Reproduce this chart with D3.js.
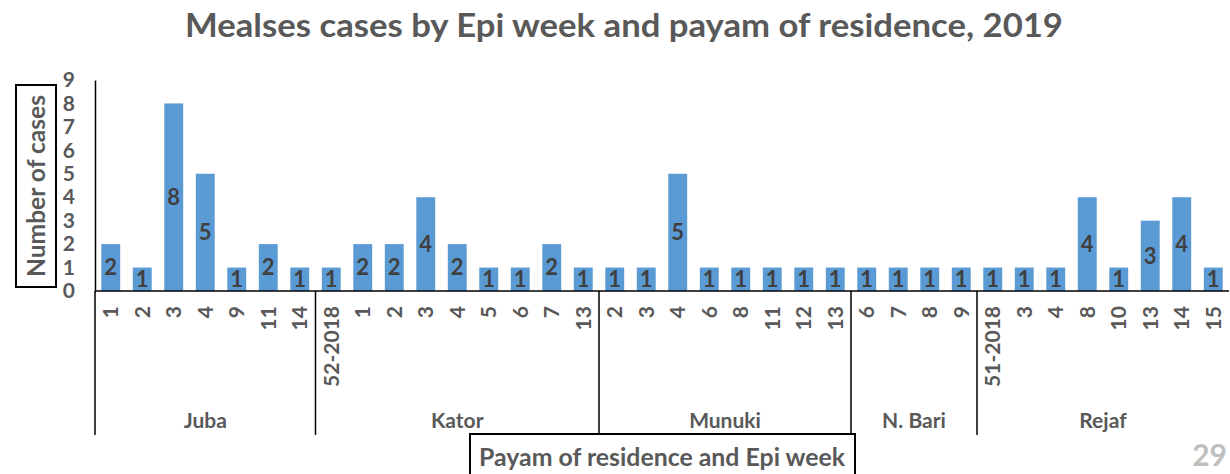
<!DOCTYPE html>
<html><head><meta charset="utf-8">
<script src="https://cdn.jsdelivr.net/npm/d3@7"></script>
<style>body{margin:0;background:#fff}svg{display:block}text{font-family:Lato,"Open Sans",sans-serif;font-weight:bold}</style>
</head><body><div id="c"></div>
<script>
const groups = ["Juba","Kator","Munuki","N. Bari","Rejaf"];
const weeks = [
  ["1","2","3","4","9","11","14"],
  ["52-2018","1","2","3","4","5","6","7","13"],
  ["2","3","4","6","8","11","12","13"],
  ["6","7","8","9"],
  ["51-2018","3","4","8","10","13","14","15"]
];
const cases = [
  [2,1,8,5,1,2,1],
  [1,2,2,4,2,1,1,2,1],
  [1,1,5,1,1,1,1,1],
  [1,1,1,1],
  [1,1,1,4,1,3,4,1]
];
const yTicks = [0,1,2,3,4,5,6,7,8,9];

const W=1230,H=474;
const svg=d3.select("#c").append("svg").attr("width",W).attr("height",H);
const rows=[];
groups.forEach((g,gi)=>weeks[gi].forEach((w,wi)=>rows.push({key:g+"|"+w+"|"+wi,g,w,v:cases[gi][wi]})));
const x=d3.scaleBand().domain(rows.map(d=>d.key)).range([95,1229]).paddingInner(0.4).paddingOuter(0.2);
const y=d3.scaleLinear().domain([0,9]).range([291,80]);
const grey="#595959";

svg.append("text").attr("x",624).attr("y",37).attr("text-anchor","middle").attr("font-size",33).attr("fill",grey)
  .attr("textLength",878).attr("lengthAdjust","spacingAndGlyphs")
  .text("Mealses cases by Epi week and payam of residence, 2019");

// bars
svg.selectAll("rect.bar").data(rows).join("rect").attr("class","bar")
  .attr("x",d=>x(d.key)).attr("width",x.bandwidth())
  .attr("y",d=>y(d.v)).attr("height",d=>y(0)-y(d.v)).attr("fill","#5b9bd5");
svg.selectAll("text.val").data(rows).join("text").attr("class","val")
  .attr("x",d=>x(d.key)+x.bandwidth()/2).attr("y",d=>(y(d.v)+y(0))/2)
  .attr("dy","0.36em").attr("text-anchor","middle").attr("font-size",22).attr("fill","#404040").text(d=>d.v);

// y axis
const ya=svg.append("g").attr("transform","translate(95,0)").call(d3.axisLeft(y).tickValues(yTicks).tickSize(0).tickPadding(20));
ya.select(".domain").attr("stroke","#000").attr("stroke-width",1.5);
ya.selectAll("text").attr("font-size",21).attr("fill",grey).attr("font-family","Lato,sans-serif").attr("font-weight","bold");

// x baseline
svg.append("line").attr("x1",95).attr("x2",1229).attr("y1",y(0)).attr("y2",y(0)).attr("stroke","#000").attr("stroke-width",1.5);

// week labels
svg.selectAll("text.wk").data(rows).join("text").attr("class","wk")
  .attr("transform",d=>`translate(${x(d.key)+x.bandwidth()/2+7.5},306) rotate(-90)`)
  .attr("text-anchor","end").attr("font-size",21).attr("fill",grey).text(d=>d.w);

// group separators & labels
let idx=0;
const step=x.step();
groups.forEach((g,gi)=>{
  const start=95+idx*step, end=95+(idx+weeks[gi].length)*step;
  svg.append("line").attr("x1",start).attr("x2",start).attr("y1",y(0)).attr("y2",435).attr("stroke","#000").attr("stroke-width",1.5);
  svg.append("text").attr("x",(start+end)/2).attr("y",428).attr("text-anchor","middle").attr("font-size",21).attr("fill",grey).text(g);
  idx+=weeks[gi].length;
});

// y title box
svg.append("rect").attr("x",16).attr("y",85).attr("width",40).attr("height",202).attr("fill","none").attr("stroke","#000").attr("stroke-width",2);
svg.append("text").attr("transform","translate(45,186) rotate(-90)").attr("text-anchor","middle").attr("font-size",24).attr("fill",grey)
  .attr("textLength",182).attr("lengthAdjust","spacingAndGlyphs").text("Number of cases");

// x title box
svg.append("rect").attr("x",470).attr("y",434).attr("width",385).attr("height",50).attr("fill","#fff").attr("stroke","#000").attr("stroke-width",2);
svg.append("text").attr("x",662).attr("y",466).attr("text-anchor","middle").attr("font-size",24).attr("fill",grey)
  .attr("textLength",366).attr("lengthAdjust","spacingAndGlyphs").text("Payam of residence and Epi week");

svg.append("text").attr("x",1227).attr("y",466).attr("text-anchor","end").attr("font-size",30).attr("fill","#bfbfbf").text("29");
</script></body></html>
